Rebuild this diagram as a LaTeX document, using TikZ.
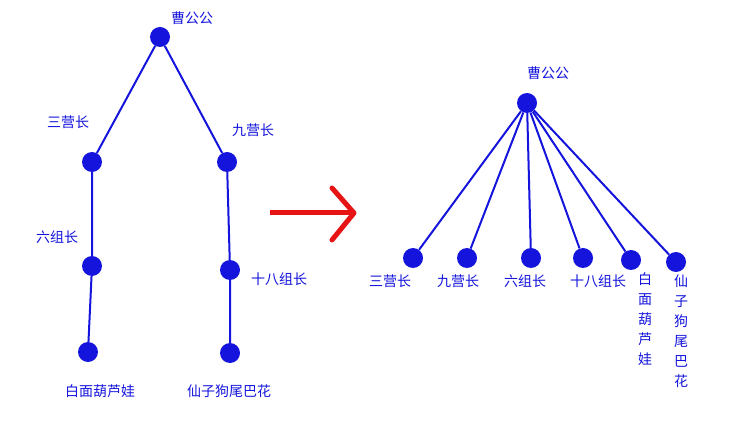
\documentclass[tikz,border=0pt]{standalone}
\usepackage{fontspec}
\newfontfamily\cjk{Noto Sans CJK SC}
\definecolor{tb}{RGB}{20,20,220}
\definecolor{tr}{RGB}{230,20,20}
\tikzset{x=1pt,y=-1pt,
 dot/.style={circle,fill=tb,inner sep=0pt,minimum size=20pt},
 edge/.style={draw=tb,line width=2pt},
 lab/.style={font=\cjk\fontsize{14}{20}\selectfont,text=tb,inner sep=0pt,align=center}}
\begin{document}
\begin{tikzpicture}
\useasboundingbox (0,0) rectangle (735,427);
% left tree
\node[dot] (r) at (160,37) {};
\node[dot] (a) at (92,162) {};
\node[dot] (b) at (227,162) {};
\node[dot] (c) at (92,266) {};
\node[dot] (d) at (230,270) {};
\node[dot] (e) at (88,352) {};
\node[dot] (f) at (230,353) {};
\draw[edge] (r)--(a) (r)--(b) (a)--(c) (c)--(e) (b)--(d) (d)--(f);
\node[lab] (lr) at (192,18) {曹公公};
\node[lab] (la) at (68,122) {三营长};
\node[lab] (lb) at (253,130) {九营长};
\node[lab] (lc) at (57,237) {六组长};
\node[lab] (ld) at (279,279) {十八组长};
\node[lab] (le) at (100,391) {白面葫芦娃};
\node[lab] (lf) at (229,391) {仙子狗尾巴花};
% arrow
\coordinate (s) at (270,213);
\coordinate (t) at (352,213);
\draw[tr,line width=5pt] (s)--(t);
\draw[tr,line width=5pt,line cap=round,line join=round] (332,188)--(354,213)--(332,240);
% right tree
\node[dot] (R) at (527,103) {};
\node[dot] (A) at (413,258) {};
\node[dot] (B) at (467,258) {};
\node[dot] (C) at (531,258) {};
\node[dot] (D) at (583,258) {};
\node[dot] (E) at (631,260) {};
\node[dot] (F) at (676,262) {};
\foreach \n in {A,B,C,D,E,F} \draw[edge] (R)--(\n);
\node[lab] (LR) at (548,73) {曹公公};
\node[lab] (LA) at (390,281) {三营长};
\node[lab] (LB) at (458,281) {九营长};
\node[lab] (LC) at (525,281) {六组长};
\node[lab] (LD) at (598,281) {十八组长};
\node[lab,anchor=north] (LE) at (645,272) {白\\面\\葫\\芦\\娃};
\node[lab,anchor=north] (LF) at (681,275) {仙\\子\\狗\\尾\\巴\\花};
\end{tikzpicture}
\end{document}
